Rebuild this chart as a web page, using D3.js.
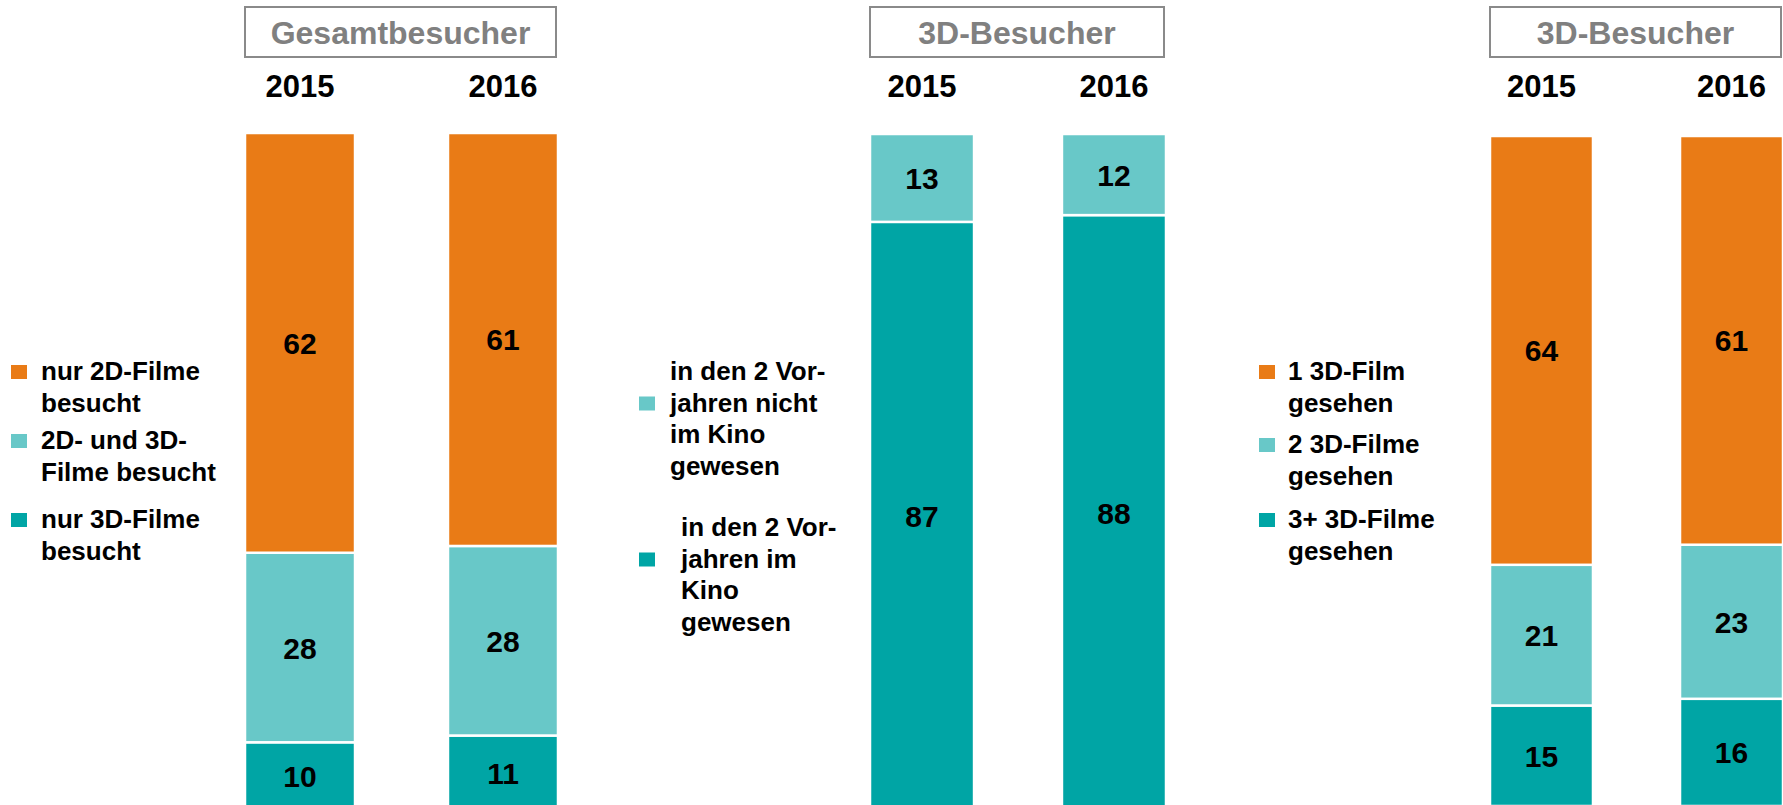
<!DOCTYPE html>
<html>
<head>
<meta charset="utf-8">
<script src="https://cdn.jsdelivr.net/npm/d3@7"></script>
<style>
  html, body { margin: 0; padding: 0; background: #fff; }
  svg { display: block; font-family: "Liberation Sans", Arial, sans-serif; font-weight: bold; }
</style>
</head>
<body>
<div id="chart"></div>
<script>
const years = ["2015", "2016"];
const panelTitles = ["Gesamtbesucher", "3D-Besucher", "3D-Besucher"];

// series are listed bottom -> top of the stack
const gesamtSeries = ["nur 3D-Filme besucht", "2D- und 3D-Filme besucht", "nur 2D-Filme besucht"];
const gesamt2015 = [10, 28, 62];
const gesamt2016 = [11, 28, 61];

const kinoSeries = ["in den 2 Vorjahren im Kino gewesen", "in den 2 Vorjahren nicht im Kino gewesen"];
const kino2015 = [87, 13];
const kino2016 = [88, 12];

const anzahlSeries = ["3+ 3D-Filme gesehen", "2 3D-Filme gesehen", "1 3D-Film gesehen"];
const anzahl2015 = [15, 21, 64];
const anzahl2016 = [16, 23, 61];

// legend text as shown (top -> bottom), with line breaks
const gesamtLegend = [["nur 2D-Filme", "besucht"], ["2D- und 3D-", "Filme besucht"], ["nur 3D-Filme", "besucht"]];
const kinoLegend = [["in den 2 Vor-", "jahren nicht", "im Kino", "gewesen"], ["in den 2 Vor-", "jahren im", "Kino", "gewesen"]];
const anzahlLegend = [["1 3D-Film", "gesehen"], ["2 3D-Filme", "gesehen"], ["3+ 3D-Filme", "gesehen"]];

const ORANGE = "#E97B16", LIGHT = "#68C8C8", TEAL = "#00A5A5";

const panels = [
  { title: panelTitles[0], series: gesamtSeries, values: [gesamt2015, gesamt2016], colors: [TEAL, LIGHT, ORANGE],
    range: [245, 558], yRange: [810, 133], legend: gesamtLegend, legendColors: [ORANGE, LIGHT, TEAL],
    swatchX: 11, textX: [41, 41, 41], itemY: [380, 449, 528], swatchLine: 0 },
  { title: panelTitles[1], series: kinoSeries, values: [kino2015, kino2016], colors: [TEAL, LIGHT],
    range: [870, 1166], yRange: [810, 134], legend: kinoLegend, legendColors: [LIGHT, TEAL],
    swatchX: 639, textX: [670, 681], itemY: [380, 536], swatchLine: 1 },
  { title: panelTitles[2], series: anzahlSeries, values: [anzahl2015, anzahl2016], colors: [TEAL, LIGHT, ORANGE],
    range: [1490, 1783], yRange: [806, 136], legend: anzahlLegend, legendColors: [ORANGE, LIGHT, TEAL],
    swatchX: 1259, textX: [1288, 1288, 1288], itemY: [380, 453, 528], swatchLine: 0 }
];

const width = 1783, height = 805;
const lineH = 31.5;

const svg = d3.select("#chart").append("svg")
  .attr("width", width)
  .attr("height", height)
  .attr("viewBox", [0, 0, width, height]);

panels.forEach(p => {
  const x = d3.scaleBand()
    .domain(years)
    .range(p.range)
    .paddingInner(0.458)
    .paddingOuter(0);

  const y = d3.scaleLinear().domain([0, 100]).range(p.yRange);

  const g = svg.append("g");

  // title box
  const boxW = p.range[1] - p.range[0] - 2;
  g.append("rect")
    .attr("x", p.range[0])
    .attr("y", 7)
    .attr("width", boxW)
    .attr("height", 50)
    .attr("fill", "white")
    .attr("stroke", "#8a8a8a")
    .attr("stroke-width", 2);

  g.append("text")
    .attr("x", p.range[0] + boxW / 2)
    .attr("y", 44)
    .attr("text-anchor", "middle")
    .attr("font-size", 32)
    .attr("fill", "#808080")
    .text(p.title);

  // year labels
  g.selectAll(".year")
    .data(years)
    .enter()
    .append("text")
    .attr("class", "year")
    .attr("x", d => x(d) + x.bandwidth() / 2)
    .attr("y", 97)
    .attr("text-anchor", "middle")
    .attr("font-size", 31)
    .attr("fill", "#000")
    .text(d => d);

  // stacked segments
  years.forEach((yr, yi) => {
    const vals = p.values[yi];
    const stack = d3.cumsum(vals);
    const segs = vals.map((v, i) => ({ v: v, lo: stack[i] - v, hi: stack[i], color: p.colors[i], name: p.series[i] }));

    const bar = g.append("g");
    bar.selectAll("rect")
      .data(segs)
      .enter()
      .append("rect")
      .attr("x", x(yr))
      .attr("y", d => y(d.hi))
      .attr("width", x.bandwidth())
      .attr("height", d => y(d.lo) - y(d.hi))
      .attr("fill", d => d.color)
      .attr("stroke", "white")
      .attr("stroke-width", 2.5);

    bar.selectAll("text")
      .data(segs)
      .enter()
      .append("text")
      .attr("x", x(yr) + x.bandwidth() / 2)
      .attr("y", d => (y(d.lo) + y(d.hi)) / 2 + 11)
      .attr("text-anchor", "middle")
      .attr("font-size", 30)
      .attr("fill", "#000")
      .text(d => d.v);
  });

  // legend
  p.legend.forEach((lines, i) => {
    const base = p.itemY[i];
    g.append("rect")
      .attr("x", p.swatchX)
      .attr("y", base + p.swatchLine * lineH - 15)
      .attr("width", 16)
      .attr("height", 14)
      .attr("fill", p.legendColors[i]);

    const t = g.append("text")
      .attr("font-size", 26)
      .attr("fill", "#000");
    lines.forEach((ln, k) => {
      t.append("tspan")
        .attr("x", p.textX[i])
        .attr("y", base + k * lineH)
        .text(ln);
    });
  });
});
</script>
</body>
</html>
